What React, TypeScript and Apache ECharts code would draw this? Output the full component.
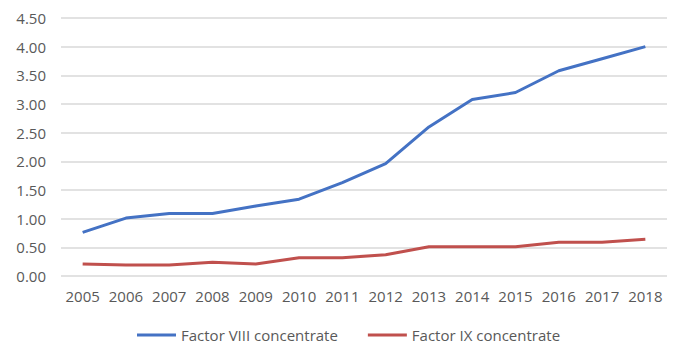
import React, { useEffect, useRef } from "react";
import * as echarts from "echarts";

// Years shown on the category axis
const years = [
  "2005", "2006", "2007", "2008", "2009", "2010", "2011",
  "2012", "2013", "2014", "2015", "2016", "2017", "2018",
];

// Factor VIII concentrate usage per year
const factorVIII = [0.76, 1.01, 1.09, 1.09, 1.22, 1.34, 1.63, 1.96, 2.6, 3.08, 3.2, 3.58, 3.79, 4.0];

// Factor IX concentrate usage per year
const factorIX = [0.21, 0.19, 0.19, 0.24, 0.21, 0.32, 0.32, 0.37, 0.51, 0.51, 0.51, 0.59, 0.59, 0.64];

const seriesNames = ["Factor VIII concentrate", "Factor IX concentrate"];
const seriesColors = ["#4472C4", "#C0504D"];

const FONT = "'Open Sans', 'Liberation Sans', sans-serif";

export default function App() {
  const ref = useRef<HTMLDivElement>(null);

  useEffect(() => {
    document.body.style.margin = "0";
    if (!ref.current) return;
    const chart = echarts.init(ref.current, undefined, { renderer: "svg" });
    chart.setOption({
      animation: false,
      backgroundColor: "#ffffff",
      grid: { left: 61, right: 7, top: 18, bottom: 70, containLabel: false },
      legend: {
        data: seriesNames,
        left: 137,
        top: 326,
        padding: 0,
        icon: "rect",
        itemWidth: 39,
        itemHeight: 3,
        itemGap: 30,
        textStyle: { color: "#595959", fontSize: 15, fontFamily: FONT, lineHeight: 18 },
      },
      xAxis: {
        type: "category",
        data: years,
        boundaryGap: true,
        axisLine: { show: false },
        axisTick: { show: false },
        axisLabel: {
          color: "#595959",
          fontSize: 15,
          fontFamily: FONT,
          margin: 12,
          interval: 0,
        },
      },
      yAxis: {
        type: "value",
        min: 0,
        max: 4.5,
        interval: 0.5,
        axisLine: { show: false },
        axisTick: { show: false },
        axisLabel: {
          color: "#595959",
          fontSize: 15,
          fontFamily: FONT,
          margin: 15,
          formatter: (v: number) => v.toFixed(2),
        },
        splitLine: { lineStyle: { color: "#D9D9D9", width: 1.5 } },
      },
      series: [
        {
          name: seriesNames[0],
          type: "line",
          data: factorVIII,
          symbol: "none",
          color: seriesColors[0],
          lineStyle: { width: 3, color: seriesColors[0] },
        },
        {
          name: seriesNames[1],
          type: "line",
          data: factorIX,
          symbol: "none",
          color: seriesColors[1],
          lineStyle: { width: 3, color: seriesColors[1] },
        },
      ],
    });
    return () => chart.dispose();
  }, []);

  return <div ref={ref} style={{ width: 674, height: 346 }} />;
}
